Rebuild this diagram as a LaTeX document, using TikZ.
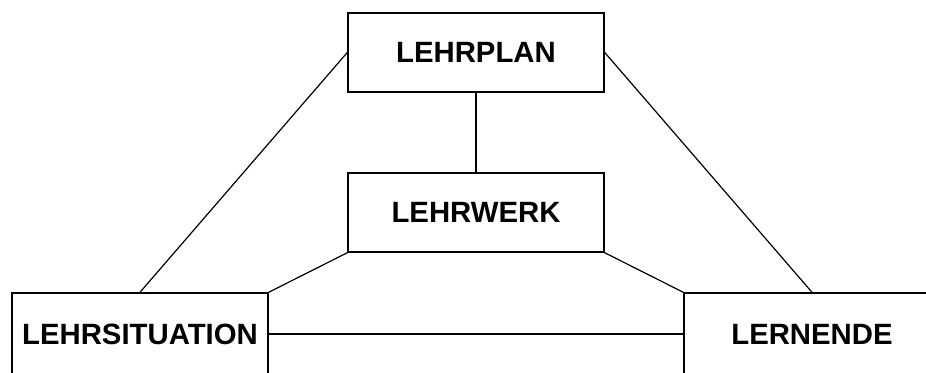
\documentclass[tikz,border=0pt]{standalone}
\usepackage{fontspec}
\setmainfont{Liberation Sans}
\begin{document}
\begin{tikzpicture}[x=0.75pt,y=-0.75pt,
  box/.style={draw, line width=1.1pt, minimum width=192pt, minimum height=59.25pt,
    inner sep=0pt, font=\bfseries\fontsize{22}{26}\selectfont},
  link/.style={line width=0.9pt}]
\useasboundingbox (0,0) rectangle (926,372);
\clip (0,0) rectangle (926,372);

\node[box] (plan) at (476,52.5) {LEHRPLAN};
\node[box] (werk) at (476,212.5) {LEHRWERK};
\node[box,minimum height=61.5pt] (situation) at (140,334) {LEHRSITUATION};
\node[box,minimum height=61.5pt] (lernende) at (812,334) {LERNENDE};

\draw[link] (plan.south) -- (werk.north);
\draw[link] (plan.west) -- (situation.north);
\draw[link] (plan.east) -- (lernende.north);
\draw[link] (werk.south west) -- (situation.north east);
\draw[link] (werk.south east) -- (lernende.north west);
\draw[link] (situation.east) -- (lernende.west);
\end{tikzpicture}
\end{document}
